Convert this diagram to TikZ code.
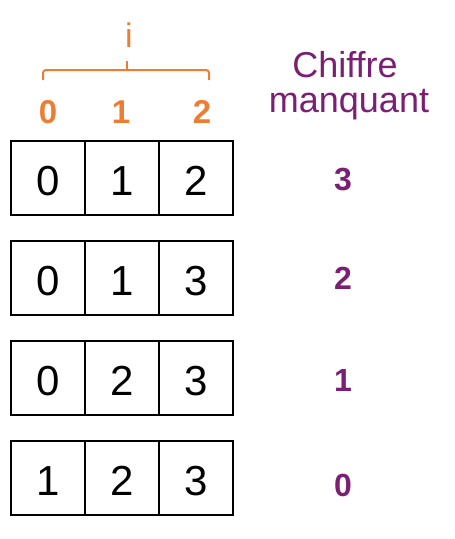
\documentclass[tikz,border=0pt]{standalone}
\usepackage{fontspec}
\setmainfont{Liberation Sans}
\definecolor{idxorange}{HTML}{ED7D31}
\definecolor{misspurple}{HTML}{7A1F72}
\begin{document}
\begin{tikzpicture}[x=1pt,y=-1pt,
  cell/.style={draw=black,line width=1.8pt,minimum size=74pt,inner sep=0pt},
  celltxt/.style={anchor=base,font=\fontsize{42}{42}\selectfont,text=black,inner sep=0pt},
  idx/.style={anchor=base,font=\fontsize{33}{33}\selectfont\bfseries,text=idxorange,inner sep=0pt},
  miss/.style={anchor=base,font=\fontsize{32}{32}\selectfont\bfseries,text=misspurple,inner sep=0pt},
  head/.style={anchor=base,font=\fontsize{36}{36}\selectfont,text=misspurple,inner sep=0pt},
  bracel/.style={draw=idxorange,line width=2pt,rounded corners=3pt}]
\useasboundingbox (0,0) rectangle (455,539);
% index brace
\coordinate (bl) at (43,80);
\coordinate (blt) at (43,70);
\coordinate (brt) at (209,70);
\coordinate (br) at (209,80);
\coordinate (bm) at (127,70);
\coordinate (bmt) at (127,61);
\draw[bracel] (bl) -- (blt) -- (brt) -- (br);
\draw[bracel] (bm) -- (bmt);
\node[anchor=base,font=\fontsize{34}{34}\selectfont,text=idxorange,inner sep=0pt] (ilab) at (129,47) {i};
\node[idx] (i0) at (48,123) {0};
\node[idx] (i1) at (121,123) {1};
\node[idx] (i2) at (202,123) {2};
% header
\node[head] (h1) at (345,77) {Chiffre};
\node[head] (h2) at (349,112) {manquant};
% rows
\foreach \k/\a/\b/\c/\m/\my in {0/0/1/2/3/190, 1/0/1/3/2/289, 2/0/2/3/1/391, 3/1/2/3/0/496}{
  \pgfmathsetmacro{\cy}{178+100*\k}
  \pgfmathsetmacro{\by}{195+100*\k}
  \node[cell] (c\k a) at (48,\cy) {};
  \node[cell] (c\k b) at (122,\cy) {};
  \node[cell] (c\k c) at (196,\cy) {};
  \node[celltxt] (t\k a) at (48,\by) {\a};
  \node[celltxt] (t\k b) at (122,\by) {\b};
  \node[celltxt] (t\k c) at (196,\by) {\c};
  \node[miss] (m\k) at (343,\my) {\m};
}
\end{tikzpicture}
\end{document}
